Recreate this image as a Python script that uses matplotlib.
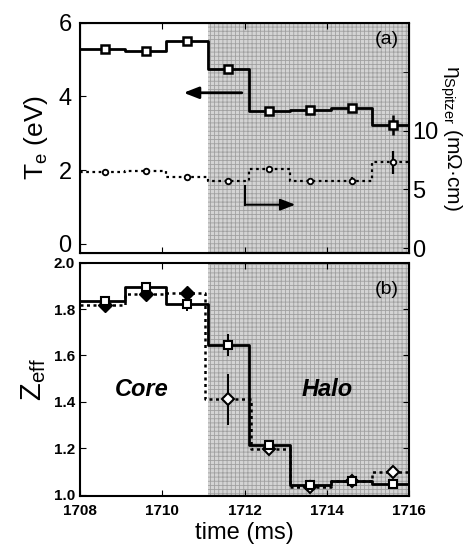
import numpy as np
import matplotlib.pyplot as plt

plt.rcParams['font.family'] = ['Liberation Sans', 'DejaVu Sans']
plt.rcParams['mathtext.fontset'] = 'custom'
plt.rcParams['mathtext.rm'] = 'Liberation Sans'
plt.rcParams['mathtext.it'] = 'Liberation Sans:italic'
plt.rcParams['hatch.color'] = '#9a9a9a'
plt.rcParams['hatch.linewidth'] = 0.6

# bin edges (ms) and centres of the 1 ms time windows
edges = [1708.0, 1709.1, 1710.1, 1711.1, 1712.1, 1713.1, 1714.1, 1715.1, 1716.0]
edges_zd = [1708.0, 1709.1, 1710.1, 1711.05, 1712.15, 1713.1, 1714.1, 1715.1, 1716.0]
t_mid = [1708.6, 1709.6, 1710.6, 1711.6, 1712.6, 1713.6, 1714.6, 1715.6]

# (a) electron temperature and Spitzer resistivity
te = [5.29, 5.22, 5.51, 4.75, 3.60, 3.64, 3.70, 3.23]
te_err = [0, 0, 0, 0, 0, 0, 0.1, 0.28]
eta = [6.5, 6.6, 6.1, 5.7, 6.75, 5.75, 5.75, 7.3]
eta_err = [0, 0, 0, 0, 0, 0, 0.3, 1.0]

# (b) Zeff, two estimates
zeff_sq = [1.834, 1.894, 1.823, 1.645, 1.215, 1.04, 1.059, 1.044]
zeff_sq_err = [0, 0, 0.03, 0.047, 0, 0, 0, 0]
zeff_dm = [1.817, 1.863, 1.868, 1.412, 1.195, 1.035, 1.06, 1.097]
zeff_dm_err = [0, 0, 0, 0.11, 0, 0, 0, 0]

halo_start = 1711.1

fig = plt.figure(figsize=(4.65, 5.54), dpi=100)
ax1 = fig.add_axes([0.172, 0.543, 0.708, 0.416])
ax2 = fig.add_axes([0.172, 0.105, 0.708, 0.421])


def shade(ax):
    ax.axvspan(halo_start, 1716, facecolor='#d4d4d4', edgecolor='#a0a0a0',
               hatch='++++', linewidth=0, zorder=0)


def step(ax, e, v, **kw):
    ax.step(e, list(v) + [v[-1]], where='post', color='black', **kw)


# ---- panel (a)
shade(ax1)
step(ax1, edges, te, lw=2.0, zorder=3)
ax1.errorbar(t_mid, te, yerr=te_err, fmt='s', ms=6, mfc='white', mec='black',
             mew=1.8, ecolor='black', elinewidth=1.8, capsize=0, zorder=4)
ax1.set_xlim(1708, 1716)
ax1.set_ylim(-0.25, 6)
ax1.set_yticks([0, 2, 4, 6])
ax1.set_xticks([1710, 1712, 1714])
ax1.tick_params(axis='x', direction='in', labelbottom=False, top=True, length=4)
ax1.tick_params(axis='y', direction='in', labelsize=17, length=4, pad=6)
ax1.set_ylabel('T$_{\\rm e}$ (eV)', fontsize=19, labelpad=6)
ax1.text(1715.45, 5.55, '(a)', fontsize=14, ha='center', va='center')

ax1r = ax1.twinx()
step(ax1r, edges, eta, lw=1.6, ls=(0, (1.2, 1.6)), zorder=3)
ax1r.errorbar(t_mid, eta, yerr=eta_err, fmt='o', ms=4, mfc='white', mec='black',
              mew=1.3, ecolor='black', elinewidth=1.6, capsize=0, zorder=4)
ax1r.set_ylim(-0.43, 19.2)
ax1r.set_yticks([0, 5, 10])
ax1r.set_yticks([15], minor=True)
ax1r.tick_params(axis='y', direction='in', labelsize=17, length=4, pad=2)
ax1r.tick_params(axis='y', which='minor', direction='in', length=4)
ax1r.set_ylabel('\u03b7$_{\\rm Spitzer}$ (m\u03a9\u00b7cm)', fontsize=15,
                rotation=270, labelpad=18)

# arrows pointing to the axes
ax1.annotate('', xy=(1710.45, 4.1), xytext=(1712.0, 4.1),
             arrowprops=dict(arrowstyle='-|>,head_length=0.9,head_width=0.35',
                             color='black', lw=2.0))
ax1r.plot([1712.0, 1712.0], [5.3, 3.7], color='black', lw=1.5)
ax1r.annotate('', xy=(1713.3, 3.7), xytext=(1711.98, 3.7),
              arrowprops=dict(arrowstyle='-|>,head_length=0.9,head_width=0.35',
                              color='black', lw=1.5))

for s in ax1.spines.values():
    s.set_linewidth(1.5)

# ---- panel (b)
shade(ax2)
step(ax2, edges_zd, zeff_dm, lw=1.8, ls=(0, (1.2, 1.4)), zorder=3)
step(ax2, edges, zeff_sq, lw=2.0, zorder=3)
filled = [0, 1, 2]
opened = [3, 4, 5, 6, 7]
ax2.errorbar([t_mid[i] for i in opened], [zeff_dm[i] for i in opened],
             yerr=[zeff_dm_err[i] for i in opened], fmt='D', ms=6.5, mfc='white',
             mec='black', mew=1.5, ecolor='black', elinewidth=1.4, capsize=0, zorder=4)
ax2.plot([t_mid[i] for i in filled], [zeff_dm[i] for i in filled], 'D', ms=7,
         color='black', zorder=5)
ax2.errorbar(t_mid, zeff_sq, yerr=zeff_sq_err, fmt='s', ms=6, mfc='white',
             mec='black', mew=1.5, ecolor='black', elinewidth=1.4, capsize=0, zorder=6)
ax2.set_xlim(1708, 1716)
ax2.set_ylim(0.995, 2.0)
ax2.set_yticks([1.0, 1.2, 1.4, 1.6, 1.8, 2.0])
ax2.set_yticklabels(['1.0', '1.2', '1.4', '1.6', '1.8', '2.0'])
ax2.set_xticks([1708, 1710, 1712, 1714, 1716])
ax2.tick_params(direction='in', top=True, right=True, labelsize=11, length=4)
ax2.tick_params(axis='x', pad=6)
for lab in ax2.get_xticklabels() + ax2.get_yticklabels():
    lab.set_fontweight('bold')
ax2.set_ylabel('Z$_{\\rm eff}$', fontsize=21, labelpad=4)
ax2.set_xlabel('time (ms)', fontsize=17, labelpad=3)
ax2.text(1715.45, 1.885, '(b)', fontsize=14, ha='center', va='center')
ax2.text(1709.5, 1.455, 'Core', fontsize=17, fontweight='bold',
         fontstyle='italic', ha='center', va='center')
ax2.text(1714.0, 1.455, 'Halo', fontsize=17, fontweight='bold',
         fontstyle='italic', ha='center', va='center')
for s in ax2.spines.values():
    s.set_linewidth(1.5)

fig.savefig('out.png', dpi=100)
